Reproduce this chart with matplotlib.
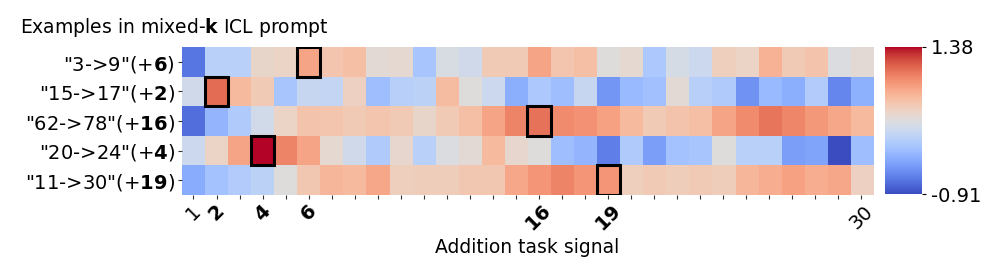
import matplotlib
matplotlib.use("Agg")
import matplotlib.pyplot as plt
import numpy as np
from matplotlib.patches import Rectangle

row_labels = ['"3->9"(+$\\mathbf{6}$)', '"15->17"(+$\\mathbf{2}$)', '"62->78"(+$\\mathbf{16}$)',
              '"20->24"(+$\\mathbf{4}$)', '"11->30"(+$\\mathbf{19}$)']
signals = list(range(1, 31))
labeled_ticks = {1: '1', 2: '$\\mathbf{2}$', 4: '$\\mathbf{4}$', 6: '$\\mathbf{6}$',
                 16: '$\\mathbf{16}$', 19: '$\\mathbf{19}$', 30: '30'}
highlight = [6, 2, 16, 4, 19]  # highlighted signal per row

row0 = [-0.68, -0.04, -0.04, 0.35, 0.37, 0.74, 0.51, 0.56, 0.28, 0.30, -0.15, 0.19, 0.12, 0.46, 0.46,
        0.74, 0.51, 0.56, 0.24, 0.30, -0.13, 0.17, 0.10, 0.42, 0.37, 0.65, 0.46, 0.53, 0.21, 0.28]
row1 = [0.12, 1.04, 0.60, 0.46, -0.15, 0.05, 0.03, 0.40, -0.22, -0.06, -0.02, 0.58, 0.24, 0.10, -0.34,
        -0.13, -0.22, 0.05, -0.50, -0.25, -0.20, 0.28, -0.06, -0.11, -0.52, -0.25, -0.34, -0.09, -0.59, -0.32]
row2 = [-0.73, -0.29, -0.11, 0.14, 0.37, 0.53, 0.51, 0.46, 0.51, 0.46, 0.35, 0.46, 0.56, 0.74, 0.92,
        1.01, 0.88, 0.85, 0.76, 0.60, 0.46, 0.53, 0.56, 0.74, 0.88, 0.99, 0.90, 0.81, 0.72, 0.60]
row3 = [0.10, 0.37, 0.74, 1.38, 0.92, 0.74, 0.30, 0.12, -0.11, 0.33, -0.04, 0.21, 0.28, 0.60, 0.33,
        0.24, -0.22, -0.29, -0.64, -0.11, -0.45, -0.18, -0.15, 0.24, -0.04, -0.04, -0.45, -0.41, -0.91, -0.22]
row4 = [-0.36, -0.18, -0.09, -0.02, 0.24, 0.49, 0.62, 0.60, 0.72, 0.42, 0.44, 0.44, 0.49, 0.49, 0.72,
        0.83, 0.92, 0.83, 0.83, 0.42, 0.46, 0.44, 0.46, 0.44, 0.62, 0.69, 0.76, 0.69, 0.72, 0.40]

data = np.array([row0, row1, row2, row3, row4])
vmin, vmax = -0.91, 1.38

fig = plt.figure(figsize=(9.96, 2.73), dpi=100)
ax = fig.add_axes([0.1827, 0.286, 0.6938, 0.542])
cax = fig.add_axes([0.8886, 0.289, 0.0371, 0.539])

im = ax.imshow(data, cmap='coolwarm', vmin=vmin, vmax=vmax, aspect='auto',
               extent=(0.5, 30.5, 4.5, -0.5))
for spine in ax.spines.values():
    spine.set_visible(False)

for r, s in enumerate(highlight):
    ax.add_patch(Rectangle((s - 0.5, r - 0.5), 1, 1, fill=False, edgecolor='black', lw=2.2, zorder=3))

ax.set_yticks(range(5))
ax.set_yticklabels(row_labels, fontsize=14)
ax.set_xticks(signals)
ax.set_xticklabels([labeled_ticks.get(s, '') for s in signals], rotation=45, fontsize=14)
ax.tick_params(axis='both', length=3, width=0.8, color='#333333', pad=2)
ax.set_xlabel('Addition task signal', fontsize=13.5, labelpad=2)
ax.text(-0.234, 1.095, 'Examples in mixed-$\\mathbf{k}$ ICL prompt', transform=ax.transAxes,
        fontsize=13.5, ha='left', va='baseline')

cb = fig.colorbar(im, cax=cax)
cb.set_ticks([vmin, vmax])
cb.set_ticklabels(['-0.91', '1.38'])
cb.ax.tick_params(labelsize=14, length=3)
cb.outline.set_visible(False)

fig.savefig('out.png', dpi=100)
